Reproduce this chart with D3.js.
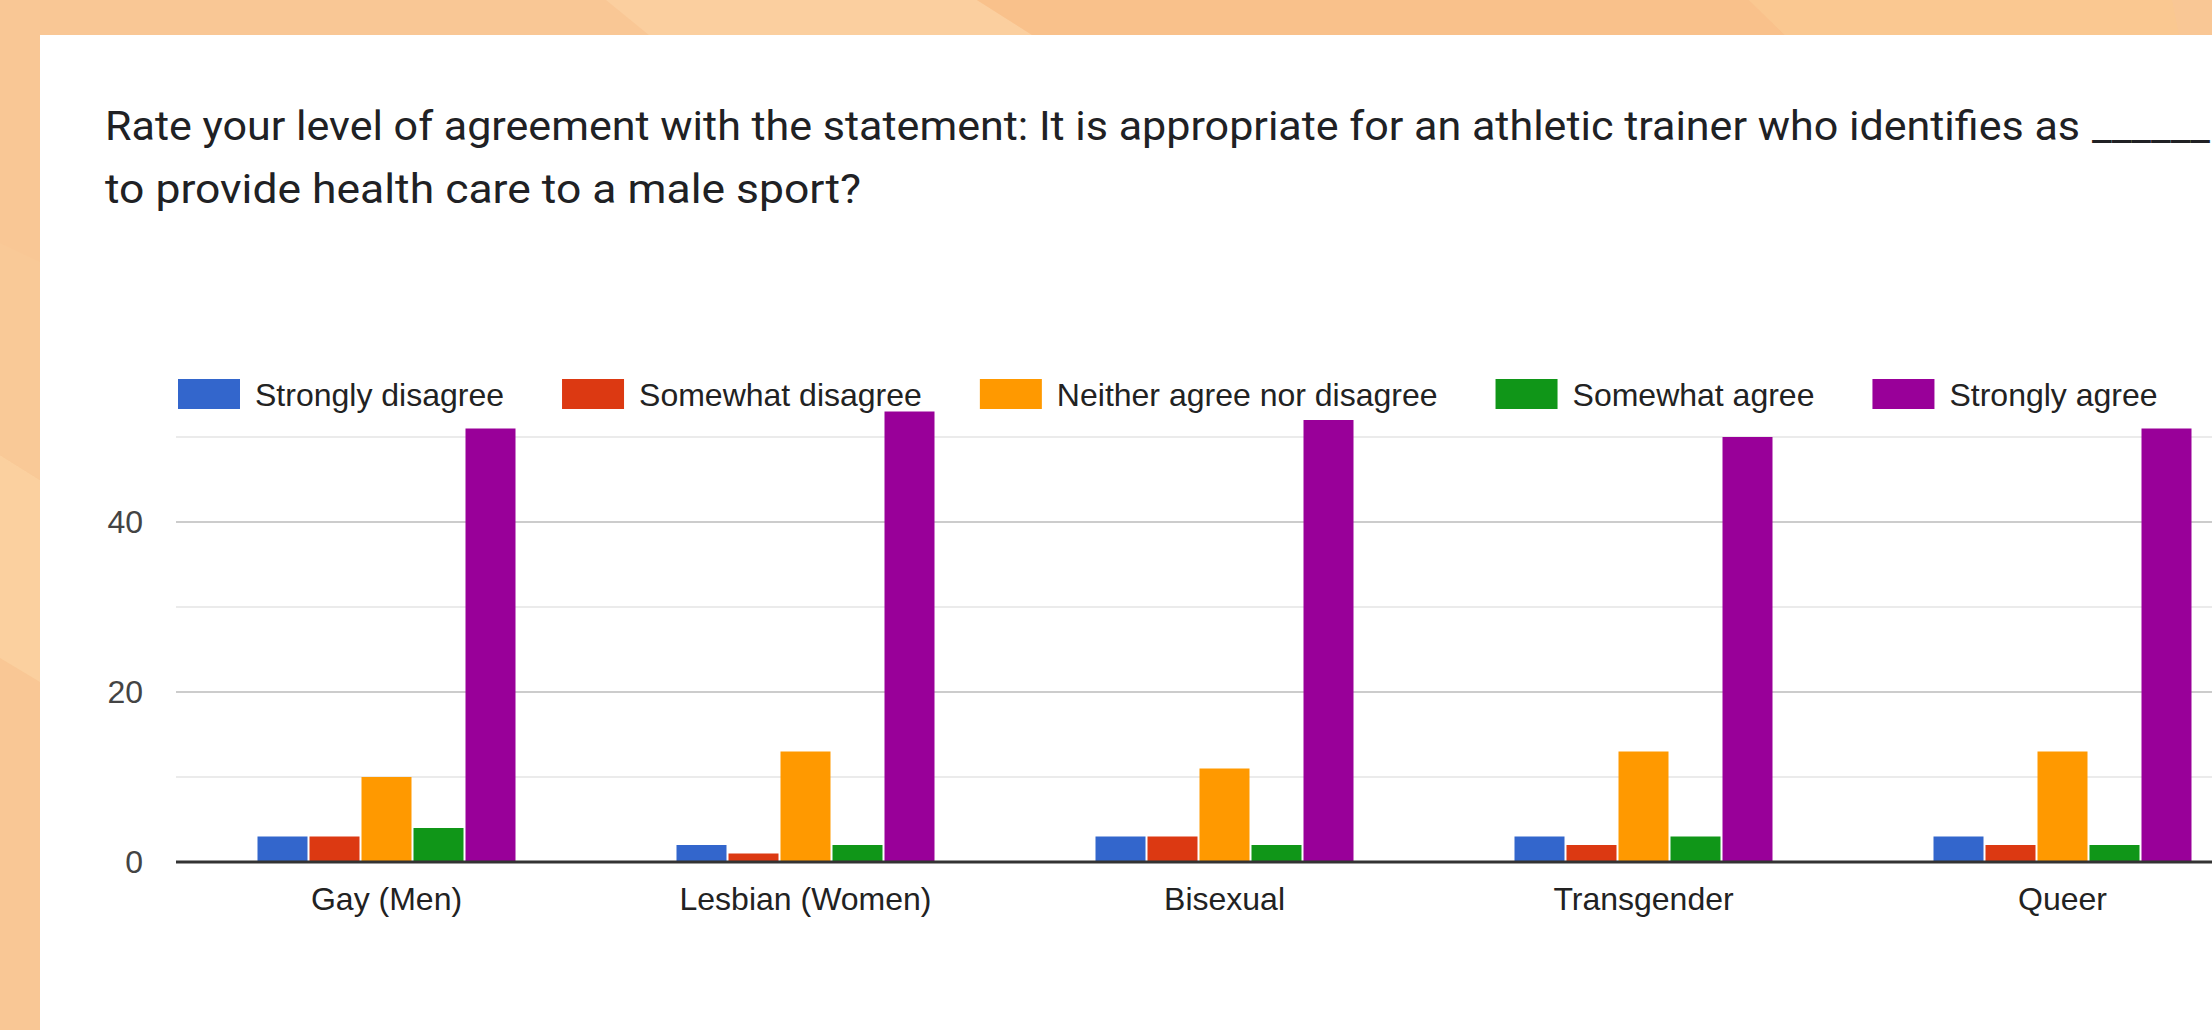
<!DOCTYPE html>
<html>
<head>
<meta charset="utf-8">
<script src="https://cdn.jsdelivr.net/npm/d3@7"></script>
<style>
  html, body { margin: 0; padding: 0; overflow: hidden; background: #f9c795; }
  svg { display: block; }
</style>
</head>
<body>
<div id="chart"></div>
<script>
const categories = ['Gay (Men)', 'Lesbian (Women)', 'Bisexual', 'Transgender', 'Queer'];
const seriesNames = ['Strongly disagree', 'Somewhat disagree', 'Neither agree nor disagree', 'Somewhat agree', 'Strongly agree'];
const stronglyDisagree = [3, 2, 3, 3, 3];
const somewhatDisagree = [3, 1, 3, 2, 2];
const neitherAgree = [10, 13, 11, 13, 13];
const somewhatAgree = [4, 2, 2, 3, 2];
const stronglyAgree = [51, 53, 52, 50, 51];
const yTicks = [0, 20, 40];
const gridTicks = [0, 10, 20, 30, 40, 50];
const colors = ['#3366cc', '#dc3912', '#ff9900', '#109618', '#990099'];

const titleLine1 = 'Rate your level of agreement with the statement: It is appropriate for an athletic trainer who identifies as';
const titleLine2 = 'to provide health care to a male sport?';

const seriesValues = [stronglyDisagree, somewhatDisagree, neitherAgree, somewhatAgree, stronglyAgree];

const width = 2212;
const height = 1030;
const font = 'Arial, "Liberation Sans", sans-serif';

const svg = d3.select('#chart')
  .append('svg')
    .attr('width', width)
    .attr('height', height);

// orange page background with soft lighter facets
svg.append('rect')
  .attr('width', width)
  .attr('height', height)
  .attr('fill', '#f9c795');

const facets = [
  { pts: [[606, 0], [977, 0], [1040, 40], [655, 40]], fill: '#fbcf9f' },
  { pts: [[977, 0], [1749, 0], [1790, 40], [1040, 40]], fill: '#f9c18b' },
  { pts: [[1749, 0], [2172, 0], [2180, 40], [1790, 40]], fill: '#fac891' },
  { pts: [[0, 455], [40, 480], [40, 682], [0, 658]], fill: '#fbd09f' },
  { pts: [[0, 243], [40, 262], [40, 480], [0, 455]], fill: '#f9c997' }
];
svg.selectAll('polygon.facet')
  .data(facets)
  .enter()
  .append('polygon')
    .attr('class', 'facet')
    .attr('points', d => d.pts.map(p => p.join(',')).join(' '))
    .attr('fill', d => d.fill);

// white card
svg.append('rect')
  .attr('x', 40)
  .attr('y', 35)
  .attr('width', width)
  .attr('height', height)
  .attr('fill', '#ffffff');

// title
const title = svg.append('g')
  .attr('font-family', 'Roboto, "Open Sans", sans-serif')
  .attr('font-size', 41)
  .attr('fill', '#202124');

title.append('text')
  .attr('x', 105)
  .attr('y', 140)
  .attr('textLength', 1975)
  .attr('lengthAdjust', 'spacingAndGlyphs')
  .text(titleLine1);

// the blank runs to the edge of the shot
title.append('text')
  .attr('x', 2092)
  .attr('y', 140)
  .attr('textLength', 118)
  .attr('lengthAdjust', 'spacingAndGlyphs')
  .text('______');

title.append('text')
  .attr('x', 105)
  .attr('y', 203)
  .attr('textLength', 756)
  .attr('lengthAdjust', 'spacingAndGlyphs')
  .text(titleLine2);

// scales
const x0 = d3.scaleBand()
  .domain(categories)
  .range([177, 177 + 419 * categories.length]);

const groupWidth = 260;
const x1 = d3.scaleBand()
  .domain(seriesNames)
  .range([(x0.bandwidth() - groupWidth) / 2, (x0.bandwidth() + groupWidth) / 2]);

const y = d3.scaleLinear()
  .domain([0, 50])
  .range([862, 437]);

// gridlines
svg.append('g')
  .selectAll('line')
  .data(gridTicks)
  .enter()
  .append('line')
    .attr('x1', 176)
    .attr('x2', x0.range()[1])
    .attr('y1', d => y(d))
    .attr('y2', d => y(d))
    .attr('stroke', d => (d % 20 === 0 ? '#cccccc' : '#ebebeb'))
    .attr('stroke-width', 2);

// bars
const data = categories.map((c, i) => ({
  category: c,
  values: seriesNames.map((s, j) => ({ series: s, value: seriesValues[j][i], color: colors[j] }))
}));

const groups = svg.append('g')
  .selectAll('g')
  .data(data)
  .enter()
  .append('g')
    .attr('transform', d => `translate(${x0(d.category)},0)`);

groups.selectAll('rect')
  .data(d => d.values)
  .enter()
  .append('rect')
    .attr('x', d => x1(d.series) + 1)
    .attr('width', x1.bandwidth() - 2)
    .attr('y', d => y(d.value))
    .attr('height', d => y(0) - y(d.value))
    .attr('fill', d => d.color);

// baseline
svg.append('line')
  .attr('x1', 176)
  .attr('x2', x0.range()[1])
  .attr('y1', y(0))
  .attr('y2', y(0))
  .attr('stroke', '#333333')
  .attr('stroke-width', 3);

// y axis labels
const yAxis = svg.append('g')
  .attr('transform', 'translate(176,0)')
  .call(d3.axisLeft(y).tickValues(yTicks).tickSize(0).tickPadding(33));
yAxis.select('.domain').remove();
yAxis.selectAll('text')
  .attr('font-family', font)
  .attr('font-size', 32)
  .attr('fill', '#444444');

// x axis labels
const xAxis = svg.append('g')
  .attr('transform', `translate(0,${y(0)})`)
  .call(d3.axisBottom(x0).tickSize(0).tickPadding(25));
xAxis.select('.domain').remove();
xAxis.selectAll('text')
  .attr('font-family', font)
  .attr('font-size', 32)
  .attr('fill', '#222222');

// legend
const legend = svg.append('g')
  .attr('font-family', font)
  .attr('font-size', 32)
  .attr('fill', '#222222');

let lx = 178;
seriesNames.forEach((name, i) => {
  const item = legend.append('g').attr('transform', `translate(${lx},379)`);
  item.append('rect')
    .attr('width', 62)
    .attr('height', 30)
    .attr('fill', colors[i]);
  const t = item.append('text')
    .attr('x', 77)
    .attr('y', 26.5)
    .text(name);
  lx += 77 + t.node().getComputedTextLength() + 58;
});
</script>
</body>
</html>
